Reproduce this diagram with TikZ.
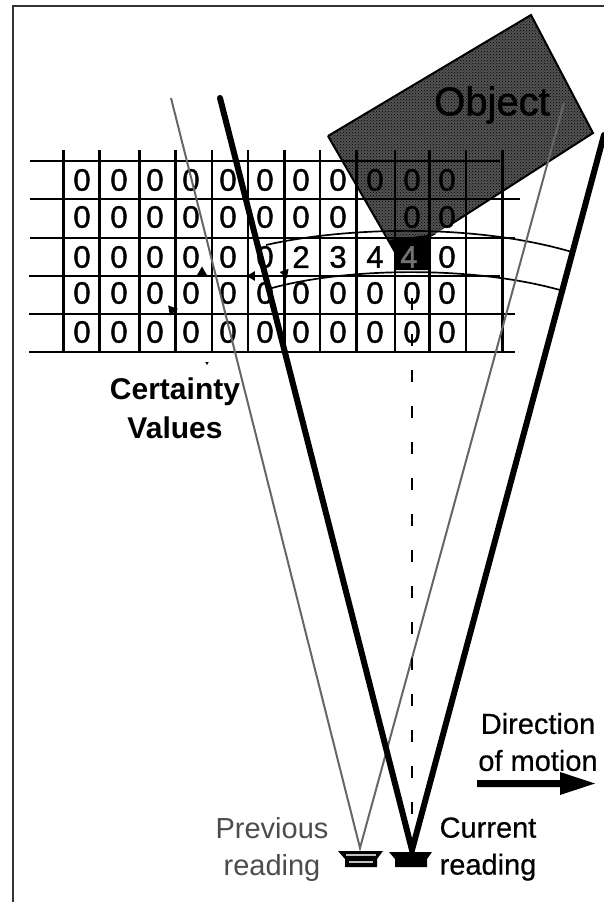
\documentclass[tikz,border=0pt]{standalone}
\usepackage{fontspec}
\setmainfont{Liberation Sans}
\newfontfamily\scanfont[FakeBold=1.2]{Liberation Sans}
\newfontfamily\halffont[FakeBold=0.5]{Liberation Sans}
\usetikzlibrary{shapes.geometric, patterns}

\begin{document}
\begin{tikzpicture}[
  x=1pt, y=-1pt,
  digit/.style={inner sep=0pt, font=\scanfont\fontsize{31}{31}\selectfont},
  label/.style={inner sep=0pt, align=center, font=\halffont\fontsize{29}{37}\selectfont},
  gridline/.style={line width=2.2pt, black},
  thickbeam/.style={line width=6pt, line cap=round},
  thinbeam/.style={line width=2pt, black!60},
  arcline/.style={line width=1.7pt},
  marker/.style={regular polygon, regular polygon sides=3, fill=black, inner sep=0pt, minimum size=13pt}
]
  \useasboundingbox (0,0) rectangle (604,902);
  % frame
  \draw[line width=1.6pt, black!80] (13,902) -- (13,6) -- (604,6);

  % object with its funnel
  \fill[black!68] (328,136) -- (531,15) -- (593,133) -- (453,223) -- (430,237) -- (395,252) -- cycle;
  \fill[pattern=crosshatch dots, pattern color=black] (328,136) -- (531,15) -- (593,133) -- (453,223)
    -- (430,237) -- (395,252) -- cycle;
  \fill (388,240) -- (436,234) -- (430,237) -- (430,270) -- (395,270) -- (395,252) -- cycle;
  \draw[line width=2pt] (328,136) -- (531,15) -- (593,133) -- (453,223);
  \draw[line width=2pt] (328,136) -- (395,252);

  % grid
  \draw[gridline] (30,161) -- (500,161);
  \draw[gridline] (30,199) -- (520,199);
  \draw[gridline] (30,238) -- (515,238);
  \draw[gridline] (29,276) -- (500,276);
  \draw[gridline] (29,314) -- (515,314);
  \draw[gridline] (29,352) -- (515,352);
  \foreach \x in {63.5,99.5,139.5,175.5,212,248,284.5,320,356.5,395,429.5,466,502.5}
    \draw[gridline] (\x,150) -- (\x,352);

  % certainty values
  \foreach \y in {180,293,332}
    \foreach \x in {82,119,155,191,228,265,301,338,375,412,447}
      \node[digit] at (\x,\y) {0};
  \foreach \x in {82,119,155,191,228,265,301,338,412,447}
    \node[digit] at (\x,217) {0};
  \foreach \x/\v in {82/0,119/0,155/0,191/0,228/0,265/0,301/2,338/3,375/4,447/0}
    \node[digit] at (\x,257) {\v};
  \node[digit, text=black!55] at (409,257) {4};

  % arcs
  \draw[arcline] (266,245) .. controls (340,228) and (470,222) .. (572,252);
  \draw[arcline] (272,288) .. controls (345,268) and (470,265) .. (560,290);

  % sensors and beams
  \coordinate (prevtip) at (360,848);
  \coordinate (currtip) at (412,850);
  \coordinate (prevleft) at (171,98);
  \coordinate (prevright) at (564,103);
  \coordinate (currleft) at (220,98);
  \coordinate (currright) at (604,135);
  \coordinate (axistop) at (412,298);
  \draw[thinbeam] (prevleft) -- (prevtip) -- (prevright);
  \draw[thickbeam] (currleft) -- (currtip) -- (currright);
  \draw[line width=1.8pt, dash pattern=on 12pt off 24pt] (axistop) -- (currtip);
  \fill (389,852) -- (432,852) -- (427,859) -- (427,867) -- (395,867) -- (395,859) -- cycle;
  \fill (338,851) -- (383,851) -- (377,859) -- (377,867) -- (345,867) -- (345,859) -- cycle;
  \draw[line width=1.6pt, black!25] (346,855) -- (376,855);
  \draw[line width=1.6pt, black!25] (349,862) -- (373,862);

  % small marks on the grid
  \node[marker, minimum size=11pt] (marka) at (202,272) {};
  \node[marker, minimum size=11pt, rotate=90] (markb) at (252,276) {};
  \node[marker, minimum size=11pt, rotate=200] (markc) at (285,273) {};
  \node[marker, minimum size=12pt, rotate=40] (markd) at (172,310) {};
  \node[marker, minimum size=4pt, rotate=60] (marke) at (207,363) {};

  % labels
  \node[digit, font=\scanfont\fontsize{40}{40}\selectfont] (object) at (492,105) {Object};
  \node[label, font=\fontsize{30}{39}\selectfont\bfseries] (certainty) at (175,408) {Certainty\\Values};
  \node[label] (direction) at (538,742) {Direction\\of motion};
  \node[label, font=\fontsize{29}{37}\selectfont, text=black!70] (previous) at (272,849) {Previous\\reading};
  \node[label] (current) at (488,849) {Current\\reading};

  % direction arrow
  \fill (477,780) -- (560,780) -- (560,772) -- (595,783.5) -- (560,795) -- (560,787) -- (477,787) -- cycle;
\end{tikzpicture}
\end{document}
